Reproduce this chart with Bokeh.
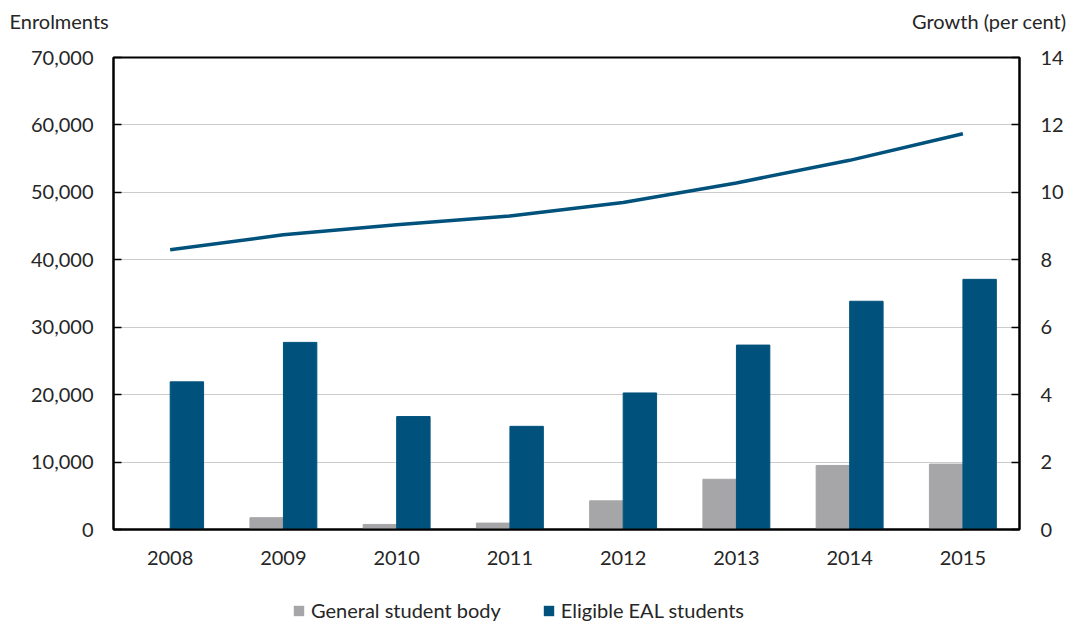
from bokeh.plotting import figure
from bokeh.layouts import column
from bokeh.models import (ColumnDataSource, Range1d, LinearAxis, FixedTicker,
                          NumeralTickFormatter, Legend, LegendItem, Label, FactorRange)
from bokeh.transform import dodge
from bokeh.embed import file_html
from bokeh.resources import INLINE

years = ["2008", "2009", "2010", "2011", "2012", "2013", "2014", "2015"]
general_growth = [0.0, 0.35, 0.15, 0.19, 0.85, 1.49, 1.90, 1.94]
eal_growth = [4.38, 5.55, 3.35, 3.06, 4.05, 5.47, 6.77, 7.42]
eal_enrolments = [41500, 43700, 45200, 46500, 48500, 51400, 54750, 58700]

left_title = "Enrolments"
right_title = "Growth (per cent)"
series_names = ["General student body", "Eligible EAL students"]

FONT = "Lato"
FS = "20px"
BLUE = "#00527c"
GREY = "#a6a6a8"
TXT = "#262626"
W = 1068


def blank(height):
    f = figure(width=W, height=height, x_range=Range1d(0, W), y_range=Range1d(0, height),
               x_axis_type=None, y_axis_type=None, output_backend="svg",
               toolbar_location=None, min_border=0)
    f.outline_line_color = None
    f.grid.visible = False
    try:
        f.frame_align = False
    except Exception:
        pass
    return f


# ---- header with the two axis titles ----
head = blank(40)
head.add_layout(Label(x=9, y=20, text=left_title, text_font=FONT, text_font_size=FS,
                      text_color=TXT, text_baseline="middle", text_align="left"))
head.add_layout(Label(x=1066, y=20, text=right_title, text_font=FONT, text_font_size=FS,
                      text_color=TXT, text_baseline="middle", text_align="right"))

# ---- main chart ----
src = ColumnDataSource(dict(years=years, general=general_growth,
                            eal=eal_growth, enrol=eal_enrolments))

p = figure(width=W, height=530, x_range=FactorRange(*years),
           y_range=Range1d(0, 70000), output_backend="svg",
           toolbar_location=None, min_border_left=113, min_border_right=49,
           min_border_top=17, min_border_bottom=41)
p.extra_y_ranges = {"g": Range1d(0, 14)}

p.outline_line_color = "black"
p.outline_line_width = 2
p.xgrid.grid_line_color = None
p.ygrid.grid_line_color = "#cccccc"
p.ygrid.grid_line_width = 1
p.ygrid.ticker = FixedTicker(ticks=list(range(0, 70001, 10000)))

p.vbar(x=dodge("years", -0.148, range=p.x_range), top="general", width=0.295,
       source=src, color=GREY, y_range_name="g")
p.vbar(x=dodge("years", 0.148, range=p.x_range), top="eal", width=0.295,
       source=src, color=BLUE, y_range_name="g")
p.line(x="years", y="enrol", source=src, line_color=BLUE, line_width=3.5)

ya = p.yaxis[0]
ya.ticker = FixedTicker(ticks=list(range(0, 70001, 10000)))
ya.formatter = NumeralTickFormatter(format="0,0")
ya.major_label_standoff = 20

ra = LinearAxis(y_range_name="g", ticker=FixedTicker(ticks=list(range(0, 15, 2))))
ra.major_label_standoff = 21
p.add_layout(ra, "right")

for ax in [ya, ra]:
    ax.axis_line_color = "black"
    ax.axis_line_width = 2
    ax.major_tick_in = 8
    ax.major_tick_out = 0
    ax.major_tick_line_color = "black"
    ax.major_tick_line_width = 1.5
    ax.minor_tick_line_color = None
    ax.major_label_text_font = FONT
    ax.major_label_text_font_size = FS
    ax.major_label_text_color = TXT

xa = p.xaxis[0]
xa.axis_line_color = "black"
xa.axis_line_width = 2
xa.major_tick_line_color = None
xa.minor_tick_line_color = None
xa.major_label_standoff = 15
xa.major_label_text_font = FONT
xa.major_label_text_font_size = FS
xa.major_label_text_color = TXT

# ---- footer with the legend (legend-only swatches, zero-size glyphs) ----
foot = blank(52)
rg = foot.vbar(x=[0], top=[0], width=0, fill_color=GREY, line_color=None)
rb = foot.vbar(x=[0], top=[0], width=0, fill_color=BLUE, line_color=None)
legend = Legend(items=[LegendItem(label=series_names[0], renderers=[rg]),
                       LegendItem(label=series_names[1], renderers=[rb])],
                orientation="horizontal", location=(292, 0),
                label_text_font=FONT, label_text_font_size=FS,
                label_text_color=TXT, glyph_width=13, glyph_height=13,
                spacing=41, label_standoff=6, border_line_color=None,
                background_fill_alpha=0, margin=0, padding=0)
foot.add_layout(legend, "center")

layout = column(head, p, foot, spacing=0)
open("out.html", "w").write(file_html(layout, INLINE))
